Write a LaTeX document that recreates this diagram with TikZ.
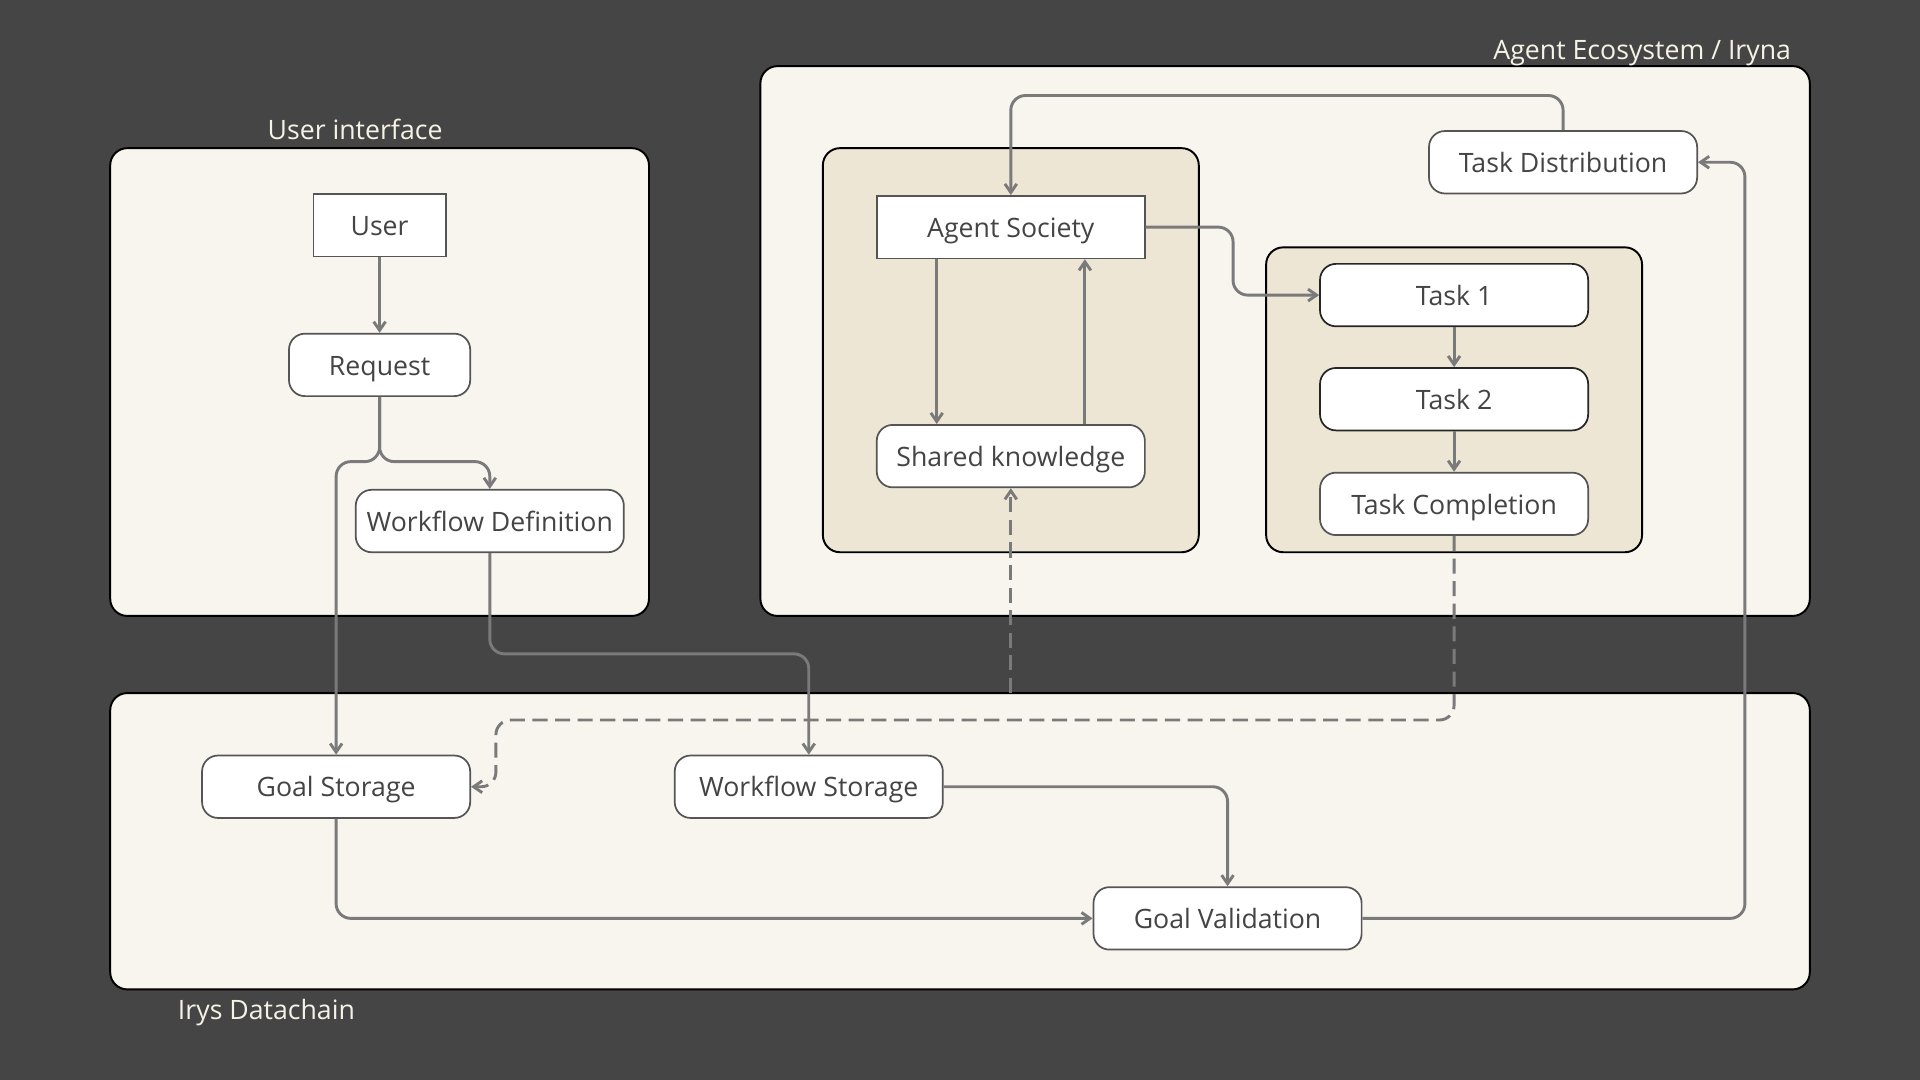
\documentclass[tikz,border=0pt]{standalone}
\usepackage{fontspec}
\setmainfont{Open Sans}
\usepackage{tikz}
\usetikzlibrary{arrows.meta}

\definecolor{bgdark}{HTML}{454545}
\definecolor{panelcream}{HTML}{F7F5EE}
\definecolor{innertan}{HTML}{EEE6D4}
\definecolor{boxline}{HTML}{555555}
\definecolor{connline}{HTML}{7A7A7A}
\definecolor{boxtext}{HTML}{444444}
\definecolor{paneltext}{HTML}{F5F2E6}

\tikzset{
	panel/.style={fill=panelcream, draw=black, line width=0.9pt, rounded corners=0.28cm},
	innerpanel/.style={fill=innertan, draw=black, line width=0.9pt, rounded corners=0.28cm},
	plainbox/.style={draw=boxline, fill=white, line width=0.8pt, text=boxtext, minimum width=4.38cm, minimum height=1.02cm, inner sep=0pt, text height=1.1em, text depth=0.156em},
	roundbox/.style={plainbox, rounded corners=0.26cm},
	taskbox/.style={roundbox, draw=black!85},
	paneltitle/.style={text=paneltext, inner sep=0pt, text height=1.1em, text depth=0.156em},
	conn/.style={draw=connline, line width=1.35pt, rounded corners=0.24cm, -{Straight Barb[length=4pt,width=5.5pt]}},
	dconn/.style={conn, dash pattern=on 7pt off 3.5pt}
}

\begin{document}
\begin{tikzpicture}[x=0.02cm, y=-0.02cm, font=\fontsize{12.4}{15}\selectfont]
		\fill[bgdark] (0, 0) rectangle (1568, 882);
		\useasboundingbox (0, 0) rectangle (1568, 882);

		\draw[panel] (90, 121) rectangle (530, 503);
		\draw[panel] (621, 54) rectangle (1478, 503);
		\draw[panel] (90, 566) rectangle (1478, 808);
		\draw[innerpanel] (672, 121) rectangle (979, 451);
		\draw[innerpanel] (1034, 202) rectangle (1341, 451);

		\node[paneltitle] (uititle) at (290, 106) {User interface};
		\node[paneltitle, anchor=east] (agtitle) at (1463, 40) {Agent Ecosystem / Iryna};
		\node[paneltitle, anchor=west] (irystitle) at (145, 824) {Irys Datachain};

		\node[plainbox, minimum width=2.16cm] (user) at (310, 184) {User};
		\node[roundbox, minimum width=2.96cm] (req) at (310, 298) {Request};
		\node[roundbox] (wdef) at (400, 425.5) {Workflow Definition};
		\node[plainbox] (asoc) at (825.5, 185.5) {Agent Society};
		\node[roundbox] (share) at (825.5, 372.5) {Shared knowledge};
		\node[roundbox] (tdist) at (1276.5, 132.5) {Task Distribution};
		\node[taskbox] (task1) at (1187.5, 241) {Task 1};
		\node[taskbox] (task2) at (1187.5, 326) {Task 2};
		\node[roundbox] (tdone) at (1187.5, 411.5) {Task Completion};
		\node[roundbox] (gstore) at (274.5, 642.5) {Goal Storage};
		\node[roundbox] (wstore) at (660.5, 642.5) {Workflow Storage};
		\node[roundbox] (gval) at (1002.5, 750) {Goal Validation};
		\coordinate (chaintop) at (825.5, 566);

		\draw[conn] (user) -- (req);
		\draw[conn] (req.south) -- (310, 377) -| (gstore.north);
		\draw[conn] (req.south) -- (310, 377) -| (wdef.north);
		\draw[conn] (wdef.south) -- (400, 534) -| (wstore.north);
		\draw[conn] (tdist.north) -- (1276.5, 78) -| (asoc.north);
		\draw[conn] (asoc.east) -- (1007, 185.5) -- (1007, 241) -- (task1.west);
		\draw[conn] (765, 0 |- asoc.south) -- (765, 0 |- share.north);
		\draw[conn] (886, 0 |- share.north) -- (886, 0 |- asoc.south);
		\draw[conn] (task1) -- (task2);
		\draw[conn] (task2) -- (tdone);
		\draw[dconn] (chaintop) -- (share.south);
		\draw[dconn] (tdone.south) -- (1187.5, 588) -- (405, 588) -- (405, 642.5) -- (gstore.east);
		\draw[conn] (gstore.south) |- (gval.west);
		\draw[conn] (wstore.east) -| (gval.north);
		\draw[conn] (gval.east) -- (1425, 750) -- (1425, 132.5) -- (tdist.east);
	\end{tikzpicture}
\end{document}
